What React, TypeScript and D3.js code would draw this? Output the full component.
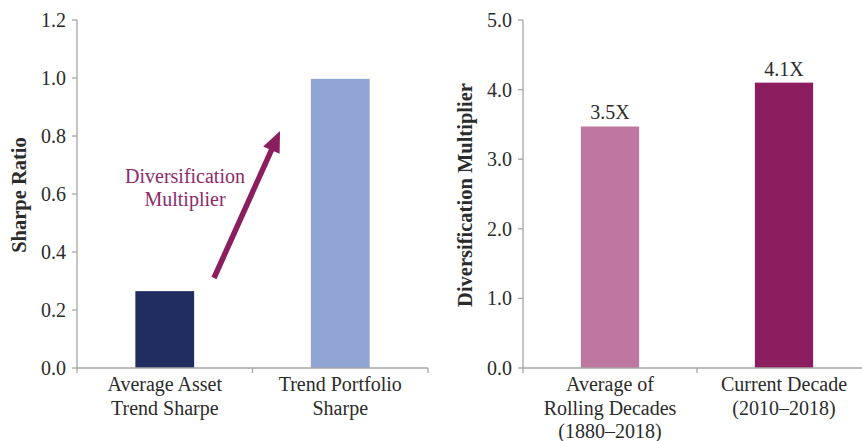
import React from "react";
import * as d3 from "d3";

const leftCategories = [["Average Asset", "Trend Sharpe"], ["Trend Portfolio", "Sharpe"]];
const leftValues = [0.265, 0.997];
const leftColors = ["#212C61", "#91A5D5"];
const leftTicks = [0, 0.2, 0.4, 0.6, 0.8, 1.0, 1.2];

const rightCategories = [["Average of", "Rolling Decades", "(1880–2018)"], ["Current Decade", "(2010–2018)"]];
const rightValues = [3.47, 4.1];
const rightLabels = ["3.5X", "4.1X"];
const rightColors = ["#BD77A0", "#8A1E5E"];
const rightTicks = [0, 1, 2, 3, 4, 5];

const FONT = "'Liberation Serif', 'Times New Roman', serif";
const TEXT = "#2b2b2b";
const AXIS = "#a6a6a6";
const FS = 20;

function Panel({ x0, x1, max, ticks, cats, values, colors, title, titleX, barLabels, annotate }: any) {
  const y = d3.scaleLinear().domain([0, max]).range([368, 20]);
  const x = d3.scaleBand().domain(cats.map((_: any, i: number) => String(i))).range([x0, x1]).paddingInner(0).paddingOuter(0);
  const bw = x.bandwidth();
  const barW = bw * 0.335;
  return (
    <g>
      {values.map((v: number, i: number) => {
        const cx = (x(String(i)) as number) + bw / 2;
        return (
          <g key={i}>
            <rect x={cx - barW / 2} y={y(v)} width={barW} height={y(0) - y(v)} fill={colors[i]} />
            {barLabels && (
              <text x={cx} y={y(v) - 7} textAnchor="middle" fontSize={FS} fill={TEXT}>{barLabels[i]}</text>
            )}
            {cats[i].map((line: string, j: number) => (
              <text key={j} x={cx} y={391 + j * 23.5} textAnchor="middle" fontSize={FS} fill={TEXT}>{line}</text>
            ))}
          </g>
        );
      })}
      <line x1={x0} x2={x0} y1={y(max)} y2={y(0)} stroke={AXIS} strokeWidth={1.3} />
      <line x1={x0} x2={x1} y1={y(0)} y2={y(0)} stroke={AXIS} strokeWidth={1.3} />
      {d3.range(cats.length + 1).map((i) => {
        const tx = x0 + i * bw;
        return <line key={i} x1={tx} x2={tx} y1={y(0)} y2={y(0) + 5} stroke={AXIS} strokeWidth={1.3} />;
      })}
      {ticks.map((t: number) => (
        <g key={t}>
          <line x1={x0 - 5} x2={x0} y1={y(t)} y2={y(t)} stroke={AXIS} strokeWidth={1.3} />
          <text x={x0 - 11} y={y(t)} dy="0.35em" textAnchor="end" fontSize={FS} fill={TEXT}>{d3.format(".1f")(t)}</text>
        </g>
      ))}
      <text transform={`translate(${titleX},${195}) rotate(-90)`} textAnchor="middle" dy="0.35em" fontSize={20.5} fontWeight="bold" fill={TEXT}>{title}</text>
      {annotate && annotate(x, y)}
    </g>
  );
}

export default function App() {
  const arrow = () => {
    const tail = [214, 278];
    const tip = [280, 131];
    const dx = tip[0] - tail[0], dy = tip[1] - tail[1];
    const len = Math.hypot(dx, dy);
    const ux = dx / len, uy = dy / len;
    const px = -uy, py = ux;
    const headL = 21, headW = 9;
    const bx = tip[0] - ux * headL, by = tip[1] - uy * headL;
    return (
      <g>
        <line x1={tail[0]} y1={tail[1]} x2={bx + ux * 2} y2={by + uy * 2} stroke="#8A1E5E" strokeWidth={5.5} />
        <polygon points={`${tip[0]},${tip[1]} ${bx + px * headW},${by + py * headW} ${bx - px * headW},${by - py * headW}`} fill="#8A1E5E" />
        <text x={185} y={183} textAnchor="middle" fontSize={FS} fill="#8E2A6B">Diversification</text>
        <text x={185} y={206} textAnchor="middle" fontSize={FS} fill="#8E2A6B">Multiplier</text>
      </g>
    );
  };
  return (
    <svg width={862} height={441} style={{ position: "absolute", left: 0, top: 0, fontFamily: FONT, background: "#fff" }}>
      <Panel x0={77} x1={428} max={1.2} ticks={leftTicks} cats={leftCategories} values={leftValues} colors={leftColors} title="Sharpe Ratio" titleX={19} annotate={arrow} />
      <Panel x0={523} x1={871} max={5} ticks={rightTicks} cats={rightCategories} values={rightValues} colors={rightColors} title="Diversification Multiplier" titleX={465} barLabels={rightLabels} />
    </svg>
  );
}
